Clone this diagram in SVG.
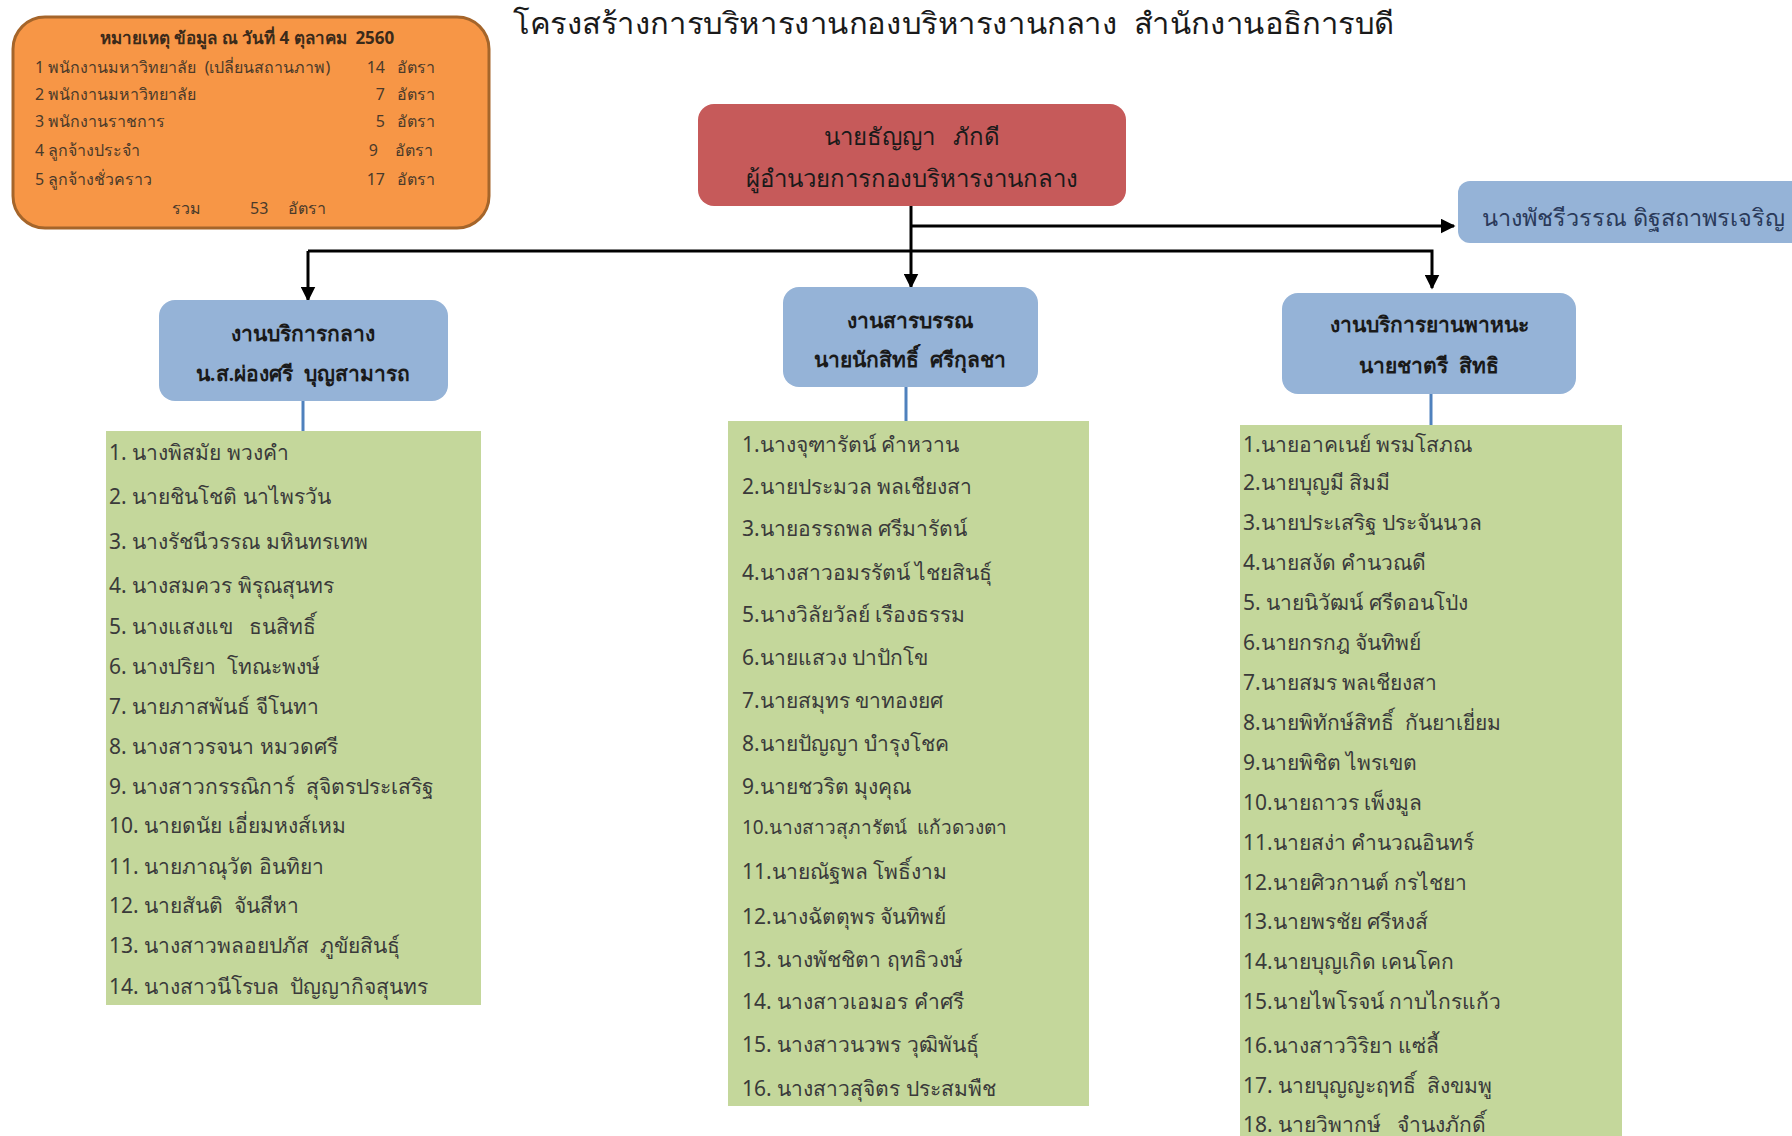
<svg xmlns="http://www.w3.org/2000/svg" width="1792" height="1136" viewBox="0 0 1792 1136">
<defs>
<marker id="arr" viewBox="0 0 10 10" refX="9" refY="5" markerWidth="5" markerHeight="5" orient="auto" markerUnits="strokeWidth">
<path d="M0,0 L10,5 L0,10 z" fill="#000"/>
</marker>
<style>
text{font-family:"Noto Sans","DejaVu Sans",sans-serif;white-space:pre;}
.title{font-size:30px;fill:#1a1a1a;}
.note{font-size:16px;fill:#4a3a2a;}
.noteh{font-size:17px;font-weight:bold;fill:#3a2a1a;}
.head{font-size:24px;fill:#1a1a1a;text-anchor:middle;}
.sub{font-size:21px;font-weight:600;fill:#1a1a1a;text-anchor:middle;}
.asst{font-size:23.5px;fill:#2a3a5a;}
.item{font-size:21px;fill:#3a3a3a;}
.blue{fill:#95b3d7;}
.green{fill:#c4d79b;}
.conn{stroke:#000;stroke-width:3;fill:none;}
.stem{stroke:#4f81bd;stroke-width:3;}
</style>
</defs>
<rect width="1792" height="1136" fill="#fff"/>

<text class="title" x="513" y="34" textLength="881" lengthAdjust="spacingAndGlyphs">โครงสร้างการบริหารงานกองบริหารงานกลาง  สำนักงานอธิการบดี</text>

<g id="note">
<rect x="13" y="17" width="476" height="211" rx="32" fill="#f79646" stroke="#a5652a" stroke-width="3"/>
<text class="noteh" x="247" y="44" text-anchor="middle">หมายเหตุ ข้อมูล ณ วันที่ 4 ตุลาคม  2560</text>
<text class="note" x="35" y="73">1 พนักงานมหาวิทยาลัย  (เปลี่ยนสถานภาพ)</text>
<text class="note" x="35" y="100">2 พนักงานมหาวิทยาลัย</text>
<text class="note" x="35" y="127">3 พนักงานราชการ</text>
<text class="note" x="35" y="156">4 ลูกจ้างประจำ</text>
<text class="note" x="35" y="185">5 ลูกจ้างชั่วคราว</text>
<g text-anchor="end">
<text class="note" x="385" y="73">14</text>
<text class="note" x="385" y="100">7</text>
<text class="note" x="385" y="127">5</text>
<text class="note" x="378" y="156">9</text>
<text class="note" x="385" y="185">17</text>
</g>
<text class="note" x="397" y="73">อัตรา</text>
<text class="note" x="397" y="100">อัตรา</text>
<text class="note" x="397" y="127">อัตรา</text>
<text class="note" x="395" y="156">อัตรา</text>
<text class="note" x="397" y="185">อัตรา</text>
<text class="note" x="172" y="214">รวม</text>
<text class="note" x="250" y="214">53</text>
<text class="note" x="288" y="214">อัตรา</text>
</g>

<g id="connectors">
<line class="conn" x1="911" y1="206" x2="911" y2="287" marker-end="url(#arr)"/>
<path class="conn" d="M911,226 H1454" marker-end="url(#arr)"/>
<path class="conn" d="M308,251 H1432 V288" marker-end="url(#arr)"/>
<path class="conn" d="M308,251 V300" marker-end="url(#arr)"/>
<line class="stem" x1="303" y1="401" x2="303" y2="431"/>
<line class="stem" x1="906" y1="387" x2="906" y2="421"/>
<line class="stem" x1="1431" y1="394" x2="1431" y2="425"/>
</g>

<g id="director">
<rect x="698" y="104" width="428" height="102" rx="16" fill="#c65a5a"/>
<text class="head" x="912" y="145">นายธัญญา   ภักดี</text>
<text class="head" x="912" y="187">ผู้อำนวยการกองบริหารงานกลาง</text>
</g>

<g id="assistant">
<rect x="1458" y="181" width="350" height="62" rx="12" class="blue"/>
<text class="asst" x="1482" y="226">นางพัชรีวรรณ ดิฐสถาพรเจริญ</text>
</g>

<g id="unit-general">
<rect x="159" y="300" width="289" height="101" rx="16" class="blue"/>
<text class="sub" x="303" y="341">งานบริการกลาง</text>
<text class="sub" x="303" y="381">น.ส.ผ่องศรี  บุญสามารถ</text>
</g>

<g id="unit-docs">
<rect x="783" y="287" width="255" height="100" rx="16" class="blue"/>
<text class="sub" x="910" y="328">งานสารบรรณ</text>
<text class="sub" x="910" y="367">นายนักสิทธิ์  ศรีกุลชา</text>
</g>

<g id="unit-vehicle">
<rect x="1282" y="293" width="294" height="101" rx="16" class="blue"/>
<text class="sub" x="1429" y="332">งานบริการยานพาหนะ</text>
<text class="sub" x="1429" y="373">นายชาตรี  สิทธิ</text>
</g>

<g id="list-general">
<rect x="106" y="431" width="375" height="574" class="green"/>
<text class="item" x="109" y="460">1. นางพิสมัย พวงคำ</text>
<text class="item" x="109" y="504">2. นายชินโชติ นาไพรวัน</text>
<text class="item" x="109" y="549">3. นางรัชนีวรรณ มหินทรเทพ</text>
<text class="item" x="109" y="593">4. นางสมควร พิรุณสุนทร</text>
<text class="item" x="109" y="634">5. นางแสงแข   ธนสิทธิ์</text>
<text class="item" x="109" y="674">6. นางปริยา  โทณะพงษ์</text>
<text class="item" x="109" y="714">7. นายภาสพันธ์ จีโนทา</text>
<text class="item" x="109" y="754">8. นางสาวรจนา หมวดศรี</text>
<text class="item" x="109" y="794">9. นางสาวกรรณิการ์  สุจิตรประเสริฐ</text>
<text class="item" x="109" y="833">10. นายดนัย เอี่ยมหงส์เหม</text>
<text class="item" x="109" y="874">11. นายภาณุวัต อินทิยา</text>
<text class="item" x="109" y="913">12. นายสันติ  จันสีหา</text>
<text class="item" x="109" y="953">13. นางสาวพลอยปภัส  ภูขัยสินธุ์</text>
<text class="item" x="109" y="994">14. นางสาวนีโรบล  ปัญญากิจสุนทร</text>
</g>

<g id="list-docs">
<rect x="728" y="421" width="361" height="685" class="green"/>
<text class="item" x="742" y="452">1.นางจุฑารัตน์ คำหวาน</text>
<text class="item" x="742" y="494">2.นายประมวล พลเชียงสา</text>
<text class="item" x="742" y="536">3.นายอรรถพล ศรีมารัตน์</text>
<text class="item" x="742" y="580">4.นางสาวอมรรัตน์ ไชยสินธุ์</text>
<text class="item" x="742" y="622">5.นางวิลัยวัลย์ เรืองธรรม</text>
<text class="item" x="742" y="665">6.นายแสวง ปาปักโข</text>
<text class="item" x="742" y="708">7.นายสมุทร ขาทองยศ</text>
<text class="item" x="742" y="751">8.นายปัญญา บำรุงโชค</text>
<text class="item" x="742" y="794">9.นายชวริต มุงคุณ</text>
<text class="item" x="742" y="834" style="font-size:19px">10.นางสาวสุภารัตน์  แก้วดวงตา</text>
<text class="item" x="742" y="879">11.นายณัฐพล โพธิ์งาม</text>
<text class="item" x="742" y="924">12.นางฉัตตุพร จันทิพย์</text>
<text class="item" x="742" y="967">13. นางพัชชิตา ฤทธิวงษ์</text>
<text class="item" x="742" y="1009">14. นางสาวเอมอร คำศรี</text>
<text class="item" x="742" y="1052">15. นางสาวนวพร วุฒิพันธุ์</text>
<text class="item" x="742" y="1096">16. นางสาวสุจิตร ประสมพืช</text>
</g>

<g id="list-vehicle">
<rect x="1240" y="425" width="382" height="711" class="green"/>
<text class="item" x="1243" y="452">1.นายอาคเนย์ พรมโสภณ</text>
<text class="item" x="1243" y="490">2.นายบุญมี สิมมี</text>
<text class="item" x="1243" y="530">3.นายประเสริฐ ประจันนวล</text>
<text class="item" x="1243" y="570">4.นายสงัด คำนวณดี</text>
<text class="item" x="1243" y="610">5. นายนิวัฒน์ ศรีดอนโป่ง</text>
<text class="item" x="1243" y="650">6.นายกรกฎ จันทิพย์</text>
<text class="item" x="1243" y="690">7.นายสมร พลเชียงสา</text>
<text class="item" x="1243" y="730">8.นายพิทักษ์สิทธิ์  กันยาเยี่ยม</text>
<text class="item" x="1243" y="770">9.นายพิชิต ไพรเขต</text>
<text class="item" x="1243" y="810">10.นายถาวร เพ็งมูล</text>
<text class="item" x="1243" y="850">11.นายสง่า คำนวณอินทร์</text>
<text class="item" x="1243" y="890">12.นายศิวกานต์ กรไชยา</text>
<text class="item" x="1243" y="929">13.นายพรชัย ศรีหงส์</text>
<text class="item" x="1243" y="969">14.นายบุญเกิด เคนโคก</text>
<text class="item" x="1243" y="1009">15.นายไพโรจน์ กาบไกรแก้ว</text>
<text class="item" x="1243" y="1053">16.นางสาววิริยา แซ่ลี้</text>
<text class="item" x="1243" y="1093">17. นายบุญญะฤทธิ์  สิงขมพู</text>
<text class="item" x="1243" y="1132">18. นายวิพากษ์   จำนงภักดิ์</text>
</g>
</svg>
